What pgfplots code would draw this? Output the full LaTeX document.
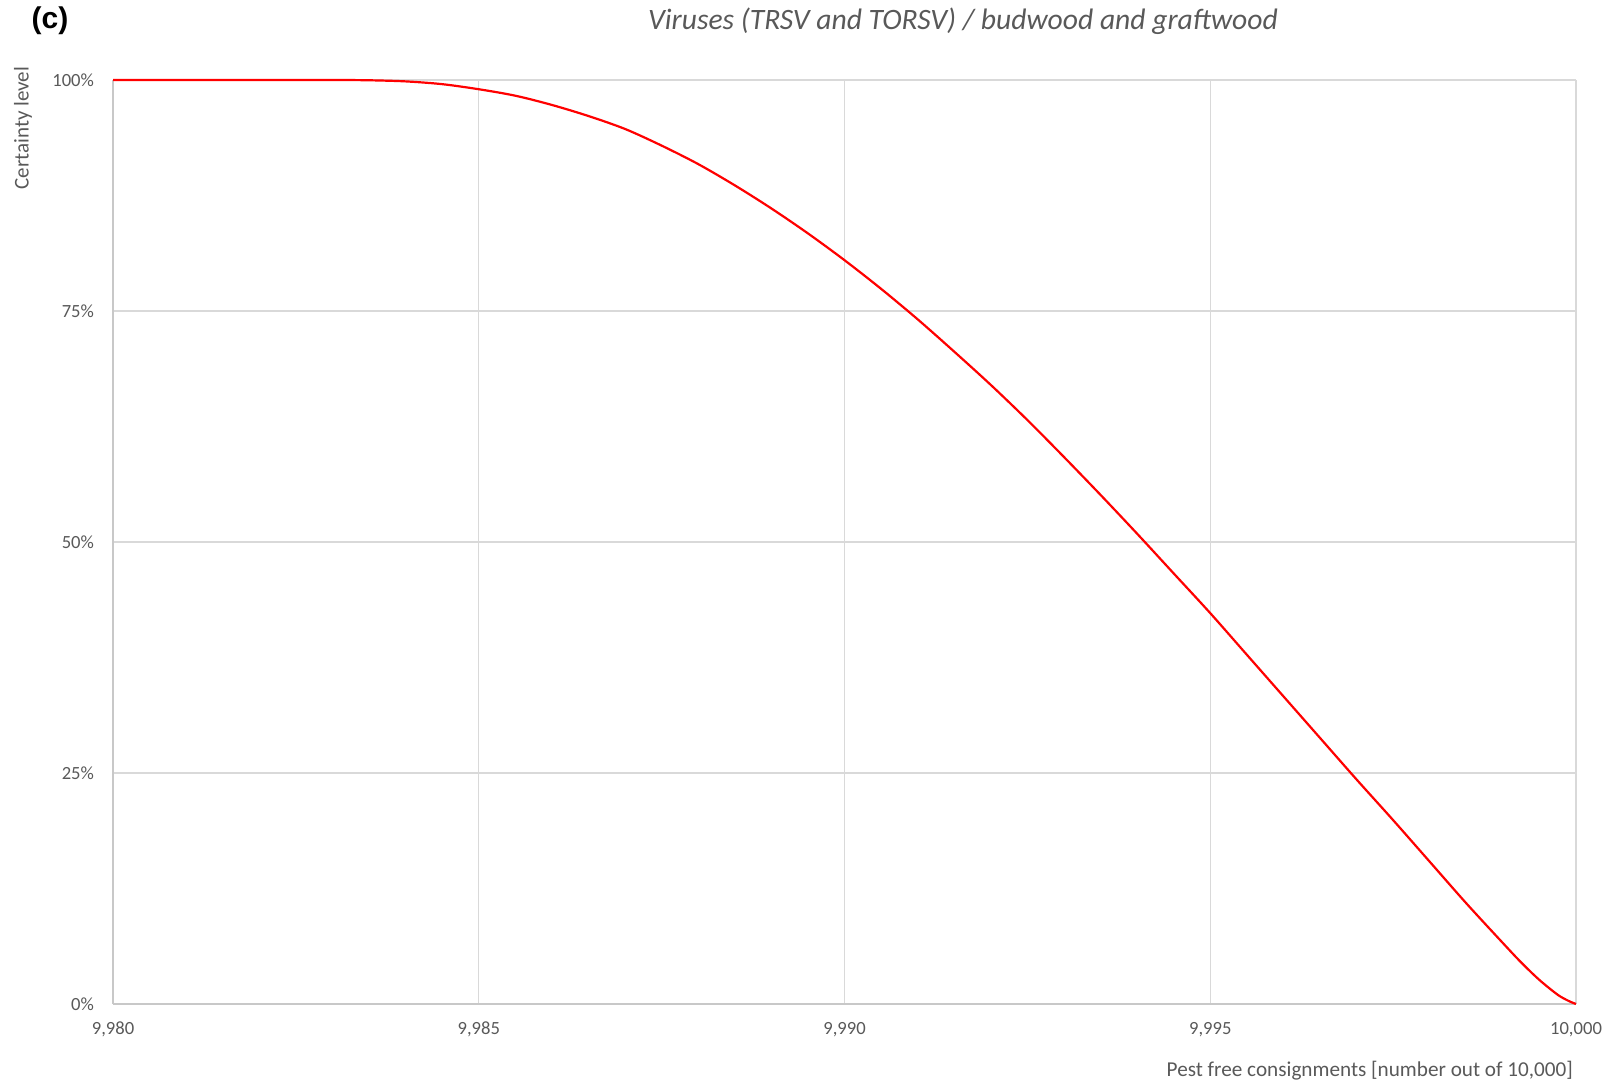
\documentclass[border=0pt]{standalone}
\usepackage{pgfplots}
\pgfplotsset{compat=1.18}
\usepackage{fontspec}
\setmainfont{Carlito}
\newfontfamily\arialfont{Liberation Sans}
\definecolor{txtgray}{RGB}{89,89,89}
\definecolor{gridgray}{RGB}{217,217,217}
\definecolor{axgray}{RGB}{200,200,200}
\pgfplotstableread{
x v
9980 100
9981 100
9982 100
9983 100
9983.5 99.97
9984 99.85
9984.5 99.55
9985 99.0
9985.5 98.3
9986 97.3
9986.5 96.1
9987 94.7
9987.5 92.9
9988 90.9
9988.5 88.6
9989 86.1
9989.5 83.4
9990 80.5
9990.5 77.4
9991 74.1
9991.5 70.6
9992 67.0
9992.5 63.2
9993 59.2
9993.5 55.1
9994 50.9
9994.5 46.6
9995 42.3
9995.5 37.8
9996 33.3
9996.5 28.8
9997 24.3
9997.5 19.9
9998 15.4
9998.5 10.9
9999 6.6
9999.25 4.5
9999.5 2.6
9999.75 1.0
9999.9 0.33
10000 0
}\curve
\begin{document}
\begin{tikzpicture}
\useasboundingbox (0,0) rectangle (805pt,542pt);
\begin{axis}[
  scale only axis,
  width=731.5pt, height=462pt,
  at={(56.5pt,40pt)}, anchor=south west,
  xmin=9980, xmax=10000, ymin=0, ymax=100,
  scaled x ticks=false, scaled y ticks=false,
  xtick={9980,9985,9990,9995,10000},
  xticklabels={{9,980},{9,985},{9,990},{9,995},{10,000}},
  ytick={0,25,50,75,100},
  yticklabels={0\%,25\%,50\%,75\%,100\%},
  major tick length=0pt,
  xmajorgrids, ymajorgrids,
  grid style={draw=gridgray, line width=0.6pt},
  axis x line*=bottom, axis y line*=left,
  axis line style={draw=axgray, line width=0.7pt, -},
  tick label style={font=\fontsize{9.3}{10}\selectfont, text=txtgray},
  xticklabel style={yshift=-5.5pt},
  yticklabel style={xshift=-6pt},
  clip=false,
]
\addplot[red, line width=1.1pt, smooth, tension=0.5] table {\curve};
\end{axis}
\node[font=\arialfont\bfseries\fontsize{15}{17}\selectfont] at (25pt,531.5pt) {(c)};
\node[font=\itshape\fontsize{14.8}{17}\selectfont, text=txtgray] at (481.5pt,531.5pt) {Viruses (TRSV and TORSV) / budwood and graftwood};
\node[rotate=90, font=\fontsize{10.5}{12}\selectfont, text=txtgray] at (11.5pt,478pt) {Certainty level};
\node[anchor=east, font=\fontsize{10.6}{12}\selectfont, text=txtgray] at (790pt,6.5pt) {Pest free consignments [number out of 10,000]};
\end{tikzpicture}
\end{document}
